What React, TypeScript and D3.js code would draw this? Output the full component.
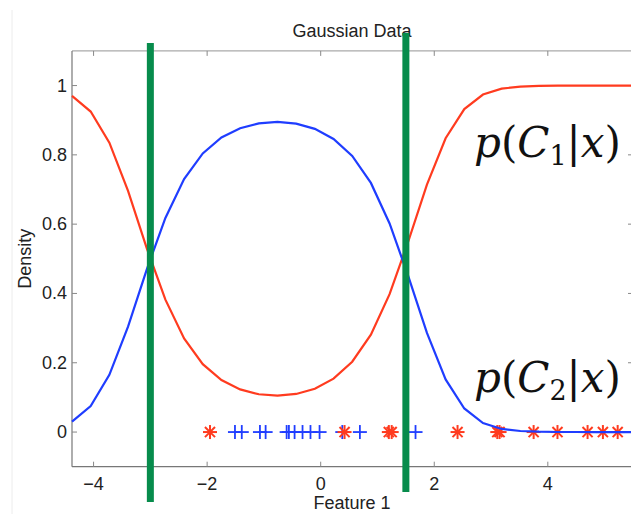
import React from "react";
import * as d3 from "d3";

// ---- data ----
const gridX: number[] = [
  -4.38, -4.051, -3.722, -3.393, -3.064, -2.735, -2.406, -2.077, -1.748, -1.419,
  -1.09, -0.761, -0.432, -0.103, 0.226, 0.555, 0.884, 1.213, 1.542, 1.871,
  2.2, 2.529, 2.858, 3.187, 3.516, 3.845, 4.174, 4.503, 4.832, 5.161, 5.5,
];
const pC2: number[] = [
  0.03, 0.075, 0.165, 0.304, 0.469, 0.618, 0.73, 0.804, 0.85, 0.877,
  0.891, 0.895, 0.89, 0.875, 0.846, 0.797, 0.719, 0.602, 0.45, 0.286,
  0.152, 0.068, 0.026, 0.009, 0.003, 0.001, 0.0002, 0.0001, 0, 0, 0,
];
const pC1: number[] = pC2.map((v) => 1 - v);
const class1Points: number[] = [-1.95, 0.42, 1.2, 1.25, 2.41, 3.11, 3.15, 3.75, 4.17, 4.7, 4.97, 5.23];
const class2Points: number[] = [-1.51, -1.39, -1.07, -0.97, -0.6, -0.56, -0.46, -0.32, -0.18, -0.02, 0.38, 0.69, 1.67];
const boundaries: { x: number; y0: number; y1: number }[] = [
  { x: -3.0, y0: -0.202, y1: 1.123 },
  { x: 1.5, y0: -0.173, y1: 1.152 },
];
const xTicks: number[] = [-4, -2, 0, 2, 4];
const yTicks: number[] = [0, 0.2, 0.4, 0.6, 0.8, 1];
const xDomain: [number, number] = [-4.38, 5.5];
const yDomain: [number, number] = [-0.1, 1.1];

const W = 631;
const H = 514;
const left = 72;
const right = 633;
const top = 50.9;
const bottom = 466.7;

const RED = "#ff3b1f";
const BLUE = "#1f3dff";
const GREEN = "#078c4c";
const FONT = "'Liberation Sans', Arial, Helvetica, sans-serif";

export default function App() {
  const x = d3.scaleLinear().domain(xDomain).range([left, right]);
  const y = d3.scaleLinear().domain(yDomain).range([bottom, top]);
  const line = d3
    .line<[number, number]>()
    .x((d) => x(d[0]))
    .y((d) => y(d[1]));
  const redPath = line(gridX.map((g, i) => [g, pC1[i]] as [number, number])) || "";
  const bluePath = line(gridX.map((g, i) => [g, pC2[i]] as [number, number])) || "";
  const tk = 5;
  const ms = 7;
  const md = ms * 0.72;

  return (
    <svg
      width={W}
      height={H}
      style={{ position: "absolute", left: 0, top: 0, background: "#fff" }}
    >
      <rect x={0} y={0} width={W} height={H} fill="#fff" />
      <line x1={12} x2={12} y1={10} y2={H} stroke="#ececec" strokeWidth={1} />
      {/* axes box */}
      <line x1={left} x2={right} y1={top} y2={top} stroke="#aaa" strokeWidth={1.2} />
      <line x1={left} x2={right} y1={bottom} y2={bottom} stroke="#777" strokeWidth={1.2} />
      <line x1={left} x2={left} y1={top} y2={bottom} stroke="#777" strokeWidth={1.2} />
      <line x1={right} x2={right} y1={top} y2={bottom} stroke="#aaa" strokeWidth={1.2} />
      {xTicks.map((t) => (
        <g key={"xt" + t}>
          <line x1={x(t)} x2={x(t)} y1={bottom} y2={bottom - tk} stroke="#888" />
          <line x1={x(t)} x2={x(t)} y1={top} y2={top + tk} stroke="#888" />
          <text
            x={x(t)}
            y={490}
            textAnchor="middle"
            fontFamily={FONT}
            fontSize={18}
            fill="#222"
          >
            {t < 0 ? "\u2212" + Math.abs(t) : String(t)}
          </text>
        </g>
      ))}
      {yTicks.map((t) => (
        <g key={"yt" + t}>
          <line x1={left} x2={left + tk} y1={y(t)} y2={y(t)} stroke="#888" />
          <line x1={right} x2={right - tk} y1={y(t)} y2={y(t)} stroke="#888" />
          <text
            x={left - 5}
            y={y(t) + 6}
            textAnchor="end"
            fontFamily={FONT}
            fontSize={18}
            fill="#222"
          >
            {String(t)}
          </text>
        </g>
      ))}
      <text x={352} y={37} textAnchor="middle" fontFamily={FONT} fontSize={18} fill="#222">
        Gaussian Data
      </text>
      <text x={352} y={509} textAnchor="middle" fontFamily={FONT} fontSize={18} fill="#222">
        Feature 1
      </text>
      <text
        transform={`translate(31, ${(top + bottom) / 2}) rotate(-90)`}
        textAnchor="middle"
        fontFamily={FONT}
        fontSize={18}
        fill="#222"
      >
        Density
      </text>
      {/* markers */}
      {class2Points.map((p, i) => (
        <g key={"b" + i} stroke={BLUE} strokeWidth={1.8}>
          <line x1={x(p) - ms} x2={x(p) + ms} y1={y(0)} y2={y(0)} />
          <line x1={x(p)} x2={x(p)} y1={y(0) - ms} y2={y(0) + ms} />
        </g>
      ))}
      {class1Points.map((p, i) => (
        <g key={"r" + i} stroke={RED} strokeWidth={2}>
          <line x1={x(p) - ms} x2={x(p) + ms} y1={y(0)} y2={y(0)} />
          <line x1={x(p)} x2={x(p)} y1={y(0) - ms} y2={y(0) + ms} />
          <line x1={x(p) - md} x2={x(p) + md} y1={y(0) - md} y2={y(0) + md} />
          <line x1={x(p) - md} x2={x(p) + md} y1={y(0) + md} y2={y(0) - md} />
        </g>
      ))}
      <path d={redPath} fill="none" stroke={RED} strokeWidth={2.2} />
      <path d={bluePath} fill="none" stroke={BLUE} strokeWidth={2.2} />
      {boundaries.map((b, i) => (
        <line
          key={"g" + i}
          x1={x(b.x)}
          x2={x(b.x)}
          y1={y(b.y0)}
          y2={y(b.y1)}
          stroke={GREEN}
          strokeWidth={7}
        />
      ))}
      <text x={474} y={157} fontFamily="'DejaVu Serif', serif" fontSize={42} fill="#111">
        <tspan fontStyle="italic">p</tspan>(<tspan fontStyle="italic">C</tspan>
        <tspan fontSize={27} dy={8}>1</tspan>
        <tspan dy={-8}>|</tspan>
        <tspan fontStyle="italic">x</tspan>)
      </text>
      <text x={474} y={392} fontFamily="'DejaVu Serif', serif" fontSize={42} fill="#111">
        <tspan fontStyle="italic">p</tspan>(<tspan fontStyle="italic">C</tspan>
        <tspan fontSize={27} dy={8}>2</tspan>
        <tspan dy={-8}>|</tspan>
        <tspan fontStyle="italic">x</tspan>)
      </text>
    </svg>
  );
}
